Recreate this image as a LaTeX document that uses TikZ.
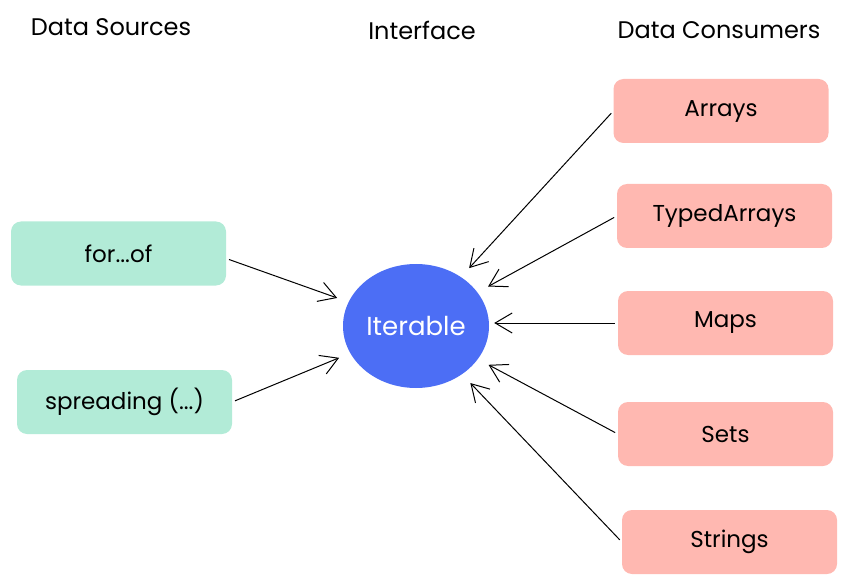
\documentclass[tikz,border=0pt]{standalone}
\usepackage{fontspec}
\setmainfont{Poppins}
\usetikzlibrary{arrows.meta,shapes.geometric}
\definecolor{mint}{HTML}{B2EBD7}
\definecolor{salmon}{HTML}{FFB8B1}
\definecolor{iterblue}{HTML}{4C6EF5}
\tikzset{
  src/.style={fill=mint,draw=none,rounded corners=10pt,minimum width=215pt,minimum height=64pt,inner sep=0pt,font=\fontsize{23}{26}\selectfont},
  cons/.style={fill=salmon,draw=none,rounded corners=10pt,minimum width=215pt,minimum height=64pt,inner sep=0pt,font=\fontsize{23}{26}\selectfont},
  heading/.style={font=\fontsize{24}{28}\selectfont,inner sep=0pt},
  conn/.style={line width=1pt,-{Straight Barb[length=17pt,width=20pt,line width=1pt]},shorten <=3pt,shorten >=12pt}
}
\begin{document}
\begin{tikzpicture}[x=1pt,y=-1pt]
\useasboundingbox (0,0) rectangle (848,585);
\node[heading] (h1) at (111,27) {Data Sources};
\node[heading] (h2) at (422,30) {Interface};
\node[heading] (h3) at (719,30) {Data Consumers};
\node[src] (forof) at (118.5,253.5) {for...of};
\node[src] (spread) at (124.5,402) {spreading (...)};
\node[ellipse,fill=iterblue,minimum width=146pt,minimum height=124pt,inner sep=0pt,text=white,font=\fontsize{26}{30}\selectfont] (iter) at (416,326) {Iterable};
\node[cons] (arrays) at (721,111) {Arrays};
\node[cons] (typed) at (724.5,216) {TypedArrays};
\node[cons] (maps) at (725.5,323) {Maps};
\node[cons] (sets) at (725.5,434) {Sets};
\node[cons] (strings) at (729.5,542) {Strings};
\draw[conn] ([yshift=-5pt]forof.east) -- (iter);
\draw[conn] (spread.east) -- (iter);
\draw[conn] (arrays.west) -- (iter);
\draw[conn] (typed.west) -- (iter);
\draw[conn,shorten >=5pt] (maps.west) -- (iter.east |- maps.west);
\draw[conn] (sets.west) -- (iter);
\draw[conn] (strings.west) -- (iter);
\end{tikzpicture}
\end{document}
